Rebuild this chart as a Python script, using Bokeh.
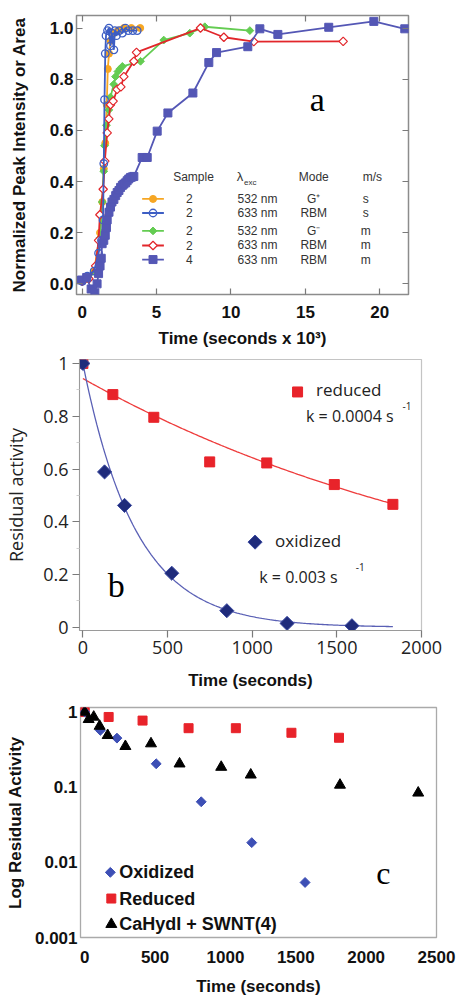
import numpy as np
from bokeh.plotting import figure
from bokeh.models import LinearAxis, FixedTicker, PrintfTickFormatter, CustomJSTickFormatter
from bokeh.core.properties import value
from bokeh.embed import file_html
from bokeh.resources import INLINE

# ---------------- Panel a data ----------------
a_xticks = [0, 5, 10, 15, 20]
a_yticks = [0.0, 0.2, 0.4, 0.6, 0.8, 1.0]

a_orange_x = [0.0, 0.3, 0.8, 1.2, 1.35, 1.45, 1.55, 1.65, 1.72, 1.8, 1.9, 2.1, 2.4, 2.8, 3.3, 3.9]
a_orange_y = [0.01, 0.02, 0.05, 0.2, 0.32, 0.45, 0.55, 0.7, 0.84, 0.9, 0.95, 0.98, 0.99, 1.0, 1.0, 1.0]

a_blue_x = [0.0, 0.35, 0.8, 1.1, 1.3, 1.4, 1.45, 1.5, 1.55, 1.6, 1.7, 1.8, 1.9, 2.0, 2.13, 2.2, 2.3, 2.5, 2.7, 2.9, 3.1, 3.4, 3.7]
a_blue_y = [0.01, 0.03, 0.05, 0.12, 0.17, 0.25, 0.47, 0.72, 0.9, 0.97, 0.99, 1.0, 0.93, 0.98, 0.915, 0.99, 0.97, 0.99, 0.98, 1.0, 0.99, 0.99, 0.99]

a_green_x = [0.0, 0.4, 0.9, 1.2, 1.35, 1.45, 1.5, 1.63, 1.79, 1.9, 2.12, 2.24, 2.4, 2.53, 2.7, 3.92, 5.48, 7.23, 8.24, 11.27]
a_green_y = [0.01, 0.02, 0.05, 0.18, 0.32, 0.44, 0.54, 0.62, 0.68, 0.73, 0.78, 0.81, 0.83, 0.84, 0.85, 0.87, 0.953, 0.98, 1.005, 0.99]

a_red_x = [0.0, 0.2, 0.45, 0.9, 1.1, 1.19, 1.41, 1.52, 1.68, 1.79, 1.9, 2.08, 2.35, 2.6, 2.8, 3.47, 3.65, 7.95, 9.52, 11.53, 17.54]
a_red_y = [0.01, 0.02, 0.02, 0.07, 0.17, 0.27, 0.37, 0.48, 0.59, 0.645, 0.70, 0.714, 0.76, 0.77, 0.81, 0.87, 0.905, 1.0, 0.964, 0.947, 0.948]

a_purple_x = [-0.05, 0.3, 0.6, 0.85, 1.0, 1.1, 1.2, 1.28, 1.34, 1.45, 1.55, 1.63, 1.68, 1.8, 1.9, 2.0, 2.13,
              2.25, 2.35, 2.47, 2.58, 2.7, 2.8, 2.92, 3.02, 3.13, 3.25, 3.36, 3.47, 4.03, 4.37, 5.04, 5.76,
              7.44, 8.51, 9.03, 11.13, 11.94, 13.15, 16.57, 19.6, 21.68]
a_purple_y = [0.015, 0.025, -0.02, -0.035, 0.0, 0.04, 0.07, 0.1, 0.157, 0.17, 0.19, 0.22, 0.25, 0.28, 0.3,
              0.32, 0.33, 0.345, 0.357, 0.365, 0.377, 0.385, 0.39, 0.395, 0.403, 0.41, 0.416, 0.418, 0.42,
              0.494, 0.494, 0.597, 0.668, 0.746, 0.865, 0.904, 0.927, 0.997, 0.975, 1.003, 1.026, 0.997]

a_leg_sample = ["2", "2", "2", "2", "4"]
a_leg_lambda = ["532 nm", "633 nm", "532 nm", "633 nm", "633 nm"]
a_leg_mode = ["G\u207a", "RBM", "G\u207b", "RBM", "RBM"]
a_leg_ms = ["s", "s", "m", "m", "m"]

# ---------------- Panel b data ----------------
b_xticks = [0, 500, 1000, 1500, 2000]
b_yticks = [0, 0.2, 0.4, 0.6, 0.8, 1.0]
b_red_t = [0, 177, 419, 749, 1086, 1485, 1831]
b_red_y = [1.0, 0.882, 0.796, 0.627, 0.623, 0.541, 0.466]
b_ox_t = [0, 128, 246, 525, 850, 1206, 1589]
b_ox_y = [1.0, 0.589, 0.462, 0.205, 0.063, 0.015, 0.006]
fit_red_a, fit_red_k = 0.943, 0.000383
fit_ox_a, fit_ox_k = 1.0, 0.0032
fit_t_max = 1831

# ---------------- Panel c data ----------------
c_xticks = [0, 500, 1000, 1500, 2000, 2500]
c_yticks = [0.001, 0.01, 0.1, 1]
c_ox_t = [0, 111, 229, 508, 828, 1187, 1566]
c_ox_y = [1.0, 0.57, 0.45, 0.205, 0.064, 0.0183, 0.0054]
c_red_t = [0, 170, 411, 738, 1074, 1469, 1807]
c_red_y = [1.0, 0.86, 0.77, 0.61, 0.61, 0.53, 0.455]
c_tri_t = [0, 28, 64, 106, 163, 289, 471, 674, 970, 1180, 1814, 2370]
c_tri_y = [1.0, 0.80, 0.86, 0.65, 0.49, 0.35, 0.38, 0.205, 0.185, 0.146, 0.107, 0.084]

W = 459
SANS = "Liberation Sans"
SERIF = "Liberation Serif"
OPEN = "Open Sans"


def txt(p, x, y, s, font, size, color="#000000", align="left", baseline="middle", style="normal"):
    p.text(x=[x], y=[y], text=[s], text_font=value(font), text_font_size=value(size),
           text_color=color, text_align=align, text_baseline=baseline, text_font_style=style)


def base_fig(**kw):
    p = figure(width=W, output_backend="svg", toolbar_location=None, **kw)
    p.grid.visible = False
    p.background_fill_color = "white"
    p.border_fill_color = "white"
    return p


# ================= Panel a =================
pa = base_fig(height=350, x_range=(-0.383, 21.93), y_range=(-0.0416, 1.049),
              min_border_left=76, min_border_right=51, min_border_top=15, min_border_bottom=54)
pa.outline_line_color = "#8c8c8c"
pa.outline_line_width = 1.5
pa.xaxis.ticker = FixedTicker(ticks=a_xticks)
pa.yaxis.ticker = FixedTicker(ticks=a_yticks)
pa.yaxis.formatter = PrintfTickFormatter(format="%.1f")
for ax in [pa.xaxis[0], pa.yaxis[0]]:
    ax.axis_line_color = None
    ax.major_tick_in = 6
    ax.major_tick_out = 0
    ax.major_tick_line_color = "#7a7a7a"
    ax.major_tick_line_width = 1.2
    ax.minor_tick_line_color = None
    ax.major_label_text_font = SANS
    ax.major_label_text_font_size = "17px"
    ax.major_label_text_font_style = "bold"
    ax.major_label_text_color = "#111111"
    ax.axis_label_text_font = SANS
    ax.axis_label_text_font_size = "17px"
    ax.axis_label_text_font_style = "bold"
    ax.axis_label_text_color = "#111111"
pa.xaxis.axis_label = "Time (seconds x 10\u00b3)"
pa.yaxis.axis_label = "Normalized Peak Intensity or Area"
pa.yaxis.major_label_standoff = 3
pa.yaxis.axis_label_standoff = 18
pa.xaxis.major_label_standoff = 11
pa.xaxis.axis_label_standoff = 8
for loc, tk in [("above", a_xticks), ("right", a_yticks)]:
    m = LinearAxis(ticker=FixedTicker(ticks=tk), major_label_text_font_size="1px",
                   major_label_text_color=None,
                   axis_line_color=None, major_tick_in=6, major_tick_out=0,
                   major_tick_line_color="#7a7a7a", major_tick_line_width=1.2,
                   minor_tick_line_color=None, major_label_standoff=0)
    pa.add_layout(m, loc)

C_OR, C_BL, C_GR, C_RD, C_PU = "#f6a623", "#3d5ec4", "#64cc52", "#e2262b", "#5457b5"

series_a = [
    (a_orange_x, a_orange_y, C_OR, dict(marker="circle", size=7, fill_color=C_OR, line_color=C_OR)),
    (a_green_x, a_green_y, C_GR, dict(marker="square", angle=np.pi / 4, size=5.5, fill_color=C_GR, line_color=C_GR)),
    (a_red_x, a_red_y, C_RD, dict(marker="square", angle=np.pi / 4, size=6, fill_color="white", line_color=C_RD, line_width=1.2)),
    (a_blue_x, a_blue_y, C_BL, dict(marker="circle", size=7.5, fill_color=None, line_color=C_BL, line_width=1.3)),
    (a_purple_x, a_purple_y, C_PU, dict(marker="square", size=8, fill_color=C_PU, line_color=C_PU)),
]
for xs, ys, col, mk in series_a:
    pa.line(xs, ys, line_color=col, line_width=1.8)
    pa.scatter(xs, ys, **mk)

# legend table (row order: orange, blue, green, red, purple)
leg_rows_y = [0.332, 0.277, 0.207, 0.150, 0.095]
leg_styles = [series_a[0], series_a[3], series_a[1], series_a[2], series_a[4]]
for ry, (xs, ys, col, mk), s1, s2, s3, s4 in zip(leg_rows_y, leg_styles, a_leg_sample, a_leg_lambda, a_leg_mode, a_leg_ms):
    pa.line([4.03, 5.49], [ry, ry], line_color=col, line_width=1.8)
    pa.scatter([4.76], [ry], **mk)
    txt(pa, 7.2, ry, s1, SANS, "12px", "#333333", align="center")
    txt(pa, 11.78, ry, s2, SANS, "12px", "#333333", align="center")
    txt(pa, 15.56, ry, s3, SANS, "12px", "#333333", align="center")
    txt(pa, 19.05, ry, s4, SANS, "12px", "#333333", align="center")
txt(pa, 7.48, 0.417, "Sample", SANS, "12px", "#333333", align="center")
txt(pa, 10.6, 0.42, "\u03bb", SANS, "13px", "#333333", align="center")
txt(pa, 11.3, 0.396, "exc", SANS, "8px", "#333333", align="center")
txt(pa, 15.56, 0.417, "Mode", SANS, "12px", "#333333", align="center")
txt(pa, 19.5, 0.417, "m/s", SANS, "12px", "#333333", align="center")
txt(pa, 15.8, 0.72, "a", SERIF, "34px", "#000000", align="center")

# ================= Panel b =================
pb = base_fig(height=342, x_range=(-20, 2000), y_range=(-0.012, 1.015),
              min_border_left=79, min_border_right=38, min_border_top=9, min_border_bottom=62)
pb.outline_line_color = "#c4c4c4"
pb.outline_line_width = 1.2
pb.xaxis.ticker = FixedTicker(ticks=b_xticks)
pb.yaxis.ticker = FixedTicker(ticks=b_yticks, minor_ticks=[0.1, 0.3, 0.5, 0.7, 0.9])
pb.yaxis.formatter = CustomJSTickFormatter(code="return String(Math.round(tick*10)/10);")
for ax in [pb.xaxis[0], pb.yaxis[0]]:
    ax.axis_line_color = "#9a9a9a"
    ax.major_tick_in = 0
    ax.major_tick_out = 7
    ax.major_tick_line_color = "#7a7a7a"
    ax.major_tick_line_width = 1.2
    ax.major_label_text_font = OPEN
    ax.major_label_text_font_size = "18px"
    ax.major_label_text_color = "#222222"
pb.xaxis.minor_tick_line_color = None
pb.yaxis.minor_tick_in = 0
pb.yaxis.minor_tick_out = 3
pb.yaxis.minor_tick_line_color = "#cfcfcf"
pb.yaxis.axis_label = "Residual activity"
pb.yaxis.axis_label_text_font = OPEN
pb.yaxis.axis_label_text_font_size = "18px"
pb.yaxis.axis_label_text_font_style = "normal"
pb.yaxis.axis_label_text_color = "#222222"
pb.yaxis.major_label_standoff = 4
pb.yaxis.axis_label_standoff = 12
pb.xaxis.axis_label = "Time (seconds)"
pb.xaxis.axis_label_text_font = SANS
pb.xaxis.axis_label_text_font_size = "17px"
pb.xaxis.axis_label_text_font_style = "bold"
pb.xaxis.axis_label_text_color = "#111111"
pb.xaxis.major_label_standoff = 3
pb.xaxis.axis_label_standoff = 14

fit_t = np.linspace(0, fit_t_max, 200)
pb.line(fit_t, fit_red_a * np.exp(-fit_red_k * fit_t), line_color="#ee3b3b", line_width=1.3)
pb.line(fit_t, fit_ox_a * np.exp(-fit_ox_k * fit_t), line_color="#5a60b5", line_width=1.3)
pb.scatter(b_red_t, b_red_y, marker="square", size=10, fill_color="#e8232a", line_color="#e8232a")
pb.scatter(b_ox_t, b_ox_y, marker="square", angle=np.pi / 4, size=10, fill_color="#1f2b7b", line_color="#3b4aa0")

pb.scatter([1268], [0.892], marker="square", size=10, fill_color="#e8232a", line_color="#e8232a")
txt(pb, 1377, 0.90, "reduced", OPEN, "17px", "#222222")
txt(pb, 1318, 0.80, "k = 0.0004 s", OPEN, "16px", "#222222")
txt(pb, 1888, 0.838, "-1", OPEN, "10px", "#222222")
pb.scatter([1017], [0.323], marker="square", angle=np.pi / 4, size=10, fill_color="#1f2b7b", line_color="#3b4aa0")
txt(pb, 1135, 0.33, "oxidized", OPEN, "17px", "#222222")
txt(pb, 1042, 0.19, "k = 0.003 s", OPEN, "16px", "#222222")
txt(pb, 1612, 0.228, "-1", OPEN, "10px", "#222222")
txt(pb, 197, 0.158, "b", SERIF, "34px", "#000000", align="center")

# ================= Panel c =================
pc = base_fig(height=307, x_range=(-30, 2500), y_range=(0.001, 1.15), y_axis_type="log",
              min_border_left=80, min_border_right=23, min_border_top=15, min_border_bottom=62)
pc.outline_line_color = "#aaaaaa"
pc.outline_line_width = 1.3
pc.xaxis.ticker = FixedTicker(ticks=c_xticks)
pc.yaxis.ticker = FixedTicker(ticks=c_yticks)
pc.yaxis.formatter = CustomJSTickFormatter(code="return String(tick);")
for ax in [pc.xaxis[0], pc.yaxis[0]]:
    ax.axis_line_color = None
    ax.major_tick_in = 0
    ax.major_tick_out = 0
    ax.minor_tick_line_color = None
    ax.major_label_text_font = SANS
    ax.major_label_text_font_size = "17px"
    ax.major_label_text_font_style = "bold"
    ax.major_label_text_color = "#111111"
    ax.axis_label_text_font = SANS
    ax.axis_label_text_font_size = "17px"
    ax.axis_label_text_font_style = "bold"
    ax.axis_label_text_color = "#111111"
pc.yaxis.axis_label = "Log Residual Activity"
pc.xaxis.axis_label = "Time (seconds)"
pc.yaxis.major_label_standoff = 3
pc.yaxis.axis_label_standoff = 7
pc.xaxis.major_label_standoff = 13
pc.xaxis.axis_label_standoff = 11

pc.scatter(c_red_t, c_red_y, marker="square", size=9, fill_color="#e8232a", line_color="#e8232a")
pc.scatter(c_ox_t, c_ox_y, marker="square", angle=np.pi / 4, size=7, fill_color="#3d4fb5", line_color="#3d4fb5")
pc.scatter(c_tri_t, c_tri_y, marker="triangle", size=11, fill_color="#000000", line_color="#000000")

pc.scatter([182], [0.00736], marker="square", angle=np.pi / 4, size=7, fill_color="#3d4fb5", line_color="#3d4fb5")
pc.scatter([189], [0.0033], marker="square", size=9, fill_color="#e8232a", line_color="#e8232a")
pc.scatter([189], [0.0015], marker="triangle", size=11, fill_color="#000000", line_color="#000000")
txt(pc, 245, 0.00736, "Oxidized", SANS, "18px", "#111111", style="bold")
txt(pc, 245, 0.0033, "Reduced", SANS, "18px", "#111111", style="bold")
txt(pc, 245, 0.0015, "CaHydI + SWNT(4)", SANS, "18px", "#111111", style="bold")
txt(pc, 2122, 0.0072, "c", SERIF, "32px", "#000000", align="center")

# three independent roots stacked on the page (no frame alignment between panels)
p = [pa, pb, pc]
open("out.html", "w").write(file_html(p, INLINE))
